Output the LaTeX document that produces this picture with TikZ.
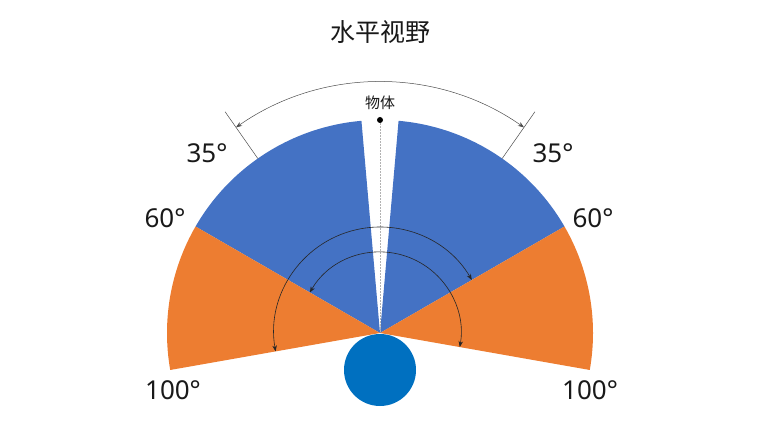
\documentclass[tikz,border=0pt]{standalone}
\usepackage{fontspec}
\setmainfont{Noto Sans}
\newfontfamily\cjk{Noto Sans CJK SC}
\usetikzlibrary{arrows.meta}
\definecolor{sectblue}{HTML}{4472C4}
\definecolor{sectorange}{HTML}{ED7D31}
\definecolor{headblue}{HTML}{0070C0}
\begin{document}
\begin{tikzpicture}[x=1pt,y=1pt,
  deglabel/.style={font=\fontsize{26}{30}\selectfont, inner sep=0pt, text=black!90},
  arcline/.style={draw=black!85, line width=0.6pt, {Stealth[length=6pt,width=4.5pt]}-{Stealth[length=6pt,width=4.5pt]}},
  dimline/.style={draw=black!70, line width=0.5pt},
 ]
\useasboundingbox (0,0) rectangle (760,423);
\coordinate (O) at (380,90);
% sectors
\fill[sectblue] (O) -- ([shift={(95:213)}]O) arc[start angle=95,end angle=150,radius=213] -- cycle;
\fill[sectblue] (O) -- ([shift={(30:213)}]O) arc[start angle=30,end angle=85,radius=213] -- cycle;
\fill[sectorange] (O) -- ([shift={(150:213)}]O) arc[start angle=150,end angle=190,radius=213] -- cycle;
\fill[sectorange] (O) -- ([shift={(-10:213)}]O) arc[start angle=-10,end angle=30,radius=213] -- cycle;
% object
\node[circle, fill=black, inner sep=0pt, minimum size=6pt] (obj) at (380,303) {};
\node[font=\cjk\fontsize{15}{17}\selectfont, inner sep=1pt, text=black!90] (objlabel) at (380,320) {物体};
\draw[black!30, dash pattern=on 1.5pt off 1.5pt, line width=0.6pt] (obj) -- (O);
% inner arcs
\draw[arcline] ([shift={(190:106)}]O) arc[start angle=190, end angle=30, radius=106];
\draw[arcline] ([shift={(150:81)}]O) arc[start angle=150, end angle=-10, radius=81];
% outer dimension
\draw[dimline] ([shift={(125:213)}]O) -- ([shift={(125:270)}]O);
\draw[dimline] ([shift={(55:213)}]O) -- ([shift={(55:270)}]O);
\draw[dimline, {Stealth[length=6pt,width=4.5pt]}-{Stealth[length=6pt,width=4.5pt]}] ([shift={(125:251)}]O) arc[start angle=125, end angle=55, radius=251];
% head
\node[circle, fill=headblue, minimum size=72pt, inner sep=0pt] (head) at (380,53) {};
% labels
\node[font=\cjk\fontsize{25}{28}\selectfont, text=black!90] (title) at (380,391) {水平视野};
\node[deglabel] (l35) at (207,270) {35°};
\node[deglabel] (r35) at (553,270) {35°};
\node[deglabel] (l60) at (165,205) {60°};
\node[deglabel] (r60) at (593,205) {60°};
\node[deglabel] (l100) at (173,33) {100°};
\node[deglabel] (r100) at (590,33) {100°};
\end{tikzpicture}
\end{document}
